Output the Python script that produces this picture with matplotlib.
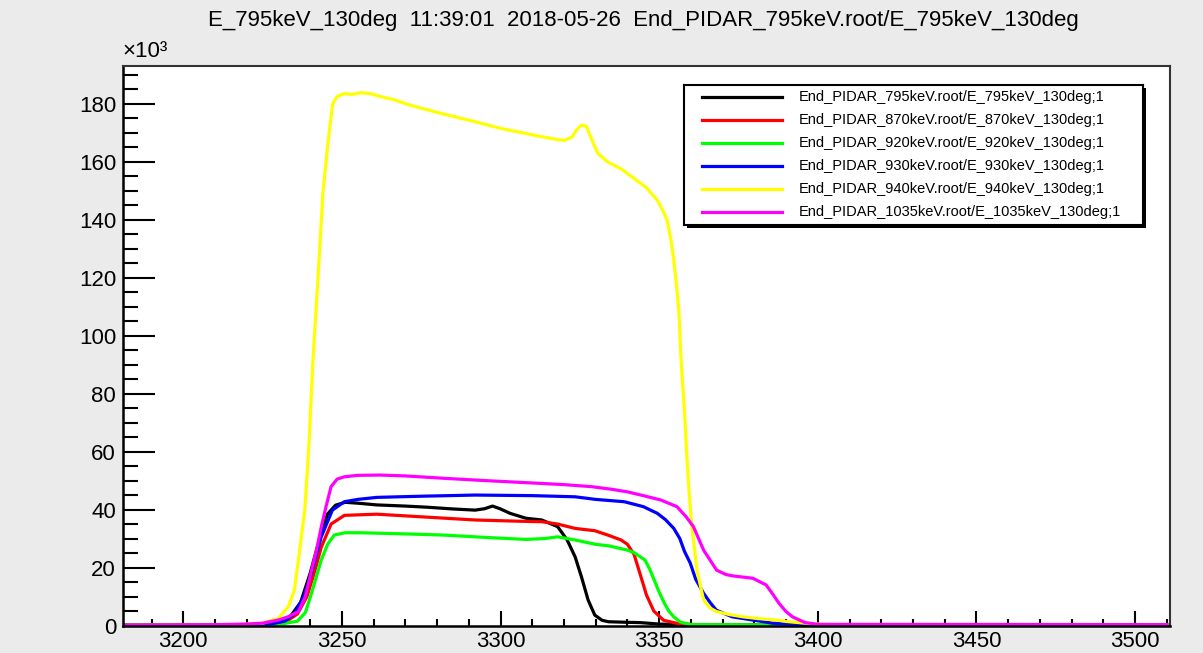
import matplotlib.pyplot as plt
from matplotlib.patches import Rectangle
from matplotlib.ticker import MultipleLocator

plt.rcParams['font.family'] = ['Liberation Sans', 'DejaVu Sans']

# energy spectra at 130 deg, counts in units of 1e3
labels = ["End_PIDAR_795keV.root/E_795keV_130deg;1",
          "End_PIDAR_870keV.root/E_870keV_130deg;1",
          "End_PIDAR_920keV.root/E_920keV_130deg;1",
          "End_PIDAR_930keV.root/E_930keV_130deg;1",
          "End_PIDAR_940keV.root/E_940keV_130deg;1",
          "End_PIDAR_1035keV.root/E_1035keV_130deg;1"]
colors = ['black', '#ff0000', '#00ff00', '#0000ff', '#ffff00', '#ff00ff']

x_795 = [3180, 3220, 3228, 3233, 3237, 3240, 3243, 3245.5, 3248, 3251, 3255, 3261, 3270,
         3277, 3285, 3292, 3295, 3297.5, 3300, 3303, 3308, 3313, 3318, 3321, 3323.5,
         3325.5, 3327.6, 3329.7, 3332, 3334, 3340, 3344, 3350, 3360, 3400, 3510]
y_795 = [0.1, 0.2, 0.6, 2, 8, 18, 30, 38.5, 41.5, 42.5, 42.2, 41.6, 41.2,
         40.8, 40.2, 39.8, 40.3, 41.2, 40.2, 38.7, 37, 36.4, 34.1, 29.5, 23.7,
         16.8, 8.8, 3.6, 1.8, 1.3, 1.1, 1.0, 0.5, 0.2, 0.1, 0.1]

x_870 = [3180, 3225, 3232, 3236, 3239, 3241.5, 3243.5, 3246.6, 3250.8, 3261, 3275, 3292,
         3305, 3313, 3318, 3323.5, 3329.7, 3333.8, 3338, 3340, 3342.1, 3344.2, 3346,
         3348.3, 3351.4, 3356.6, 3365, 3510]
y_870 = [0.1, 0.3, 1, 4, 10, 19, 27, 35, 38, 38.4, 37.5, 36.4,
         36, 35.8, 35, 33.5, 32.7, 31.2, 29.5, 28, 24.5, 17, 10.5,
         5, 1.8, 0.5, 0.2, 0.1]

x_920 = [3180, 3230, 3236, 3238.5, 3240.4, 3242, 3243.5, 3245.5, 3247.6, 3251, 3256, 3270,
         3282, 3295, 3308, 3314, 3318, 3323.5, 3330, 3334, 3340, 3342, 3345.5, 3347,
         3348.5, 3350, 3351.5, 3353, 3354.6, 3356.6, 3360, 3510]
y_920 = [0.1, 0.3, 1.5, 4.5, 11, 17, 22.6, 28, 31.2, 32, 32, 31.6,
         31.2, 30.4, 29.7, 30, 30.6, 29.5, 28, 27.5, 26, 25.2, 22.6, 19.5,
         15.5, 11.5, 8, 5, 3, 1.2, 0.3, 0.1]

x_930 = [3180, 3220, 3228, 3232, 3235, 3238, 3240.4, 3243.5, 3247, 3250.8, 3255, 3261,
         3275, 3292, 3310, 3323.5, 3330, 3339, 3345, 3349.4, 3352, 3354.6, 3356.5,
         3358, 3359.8, 3361.5, 3364, 3366, 3368, 3373, 3379.5, 3385.7, 3392, 3400, 3510]
y_930 = [0.1, 0.2, 0.6, 1.5, 4, 10, 18, 30.6, 39.8, 42.7, 43.5, 44.2,
         44.6, 45, 44.8, 44.4, 43.5, 42.7, 41, 38.7, 36.5, 33.5, 30,
         25.5, 21.5, 16, 11.1, 8, 5.3, 3.0, 1.9, 0.8, 0.4, 0.2, 0.1]

x_940 = [3180, 3215, 3225, 3230, 3233.1, 3235, 3236.3, 3238.3, 3239.5, 3240.9, 3242.5,
         3244, 3245.6, 3247.1, 3248.5, 3250.8, 3253, 3256, 3259, 3262, 3266, 3271.5,
         3280, 3292.3, 3300, 3313.1, 3318, 3320.3, 3322.5, 3324, 3325.5, 3327, 3329,
         3330.7, 3333.8, 3338, 3342.1, 3346, 3349.4, 3351, 3352.5, 3353.7, 3354.6,
         3355.5, 3356.2, 3356.9, 3357.9, 3358.8, 3359.5, 3360.3, 3361.9, 3364, 3366,
         3368.1, 3372, 3376.4, 3381, 3386.8, 3390, 3396, 3405, 3510]
y_940 = [0.05, 0.2, 0.8, 2.5, 6.5, 12, 22.6, 39.8, 60, 91.6, 120.3,
         149, 166.3, 180, 182.5, 183.5, 183.2, 183.8, 183.5, 182.5, 181.5, 179.5,
         177, 173.7, 171.5, 168.6, 167.6, 167.4, 168.5, 171, 172.6, 172.2, 167,
         162.8, 159.9, 157.5, 154.2, 151, 146.7, 143.5, 139.8, 133, 126,
         117, 108.8, 91.6, 75, 57, 45, 34.1, 19.1, 8.8, 6,
         4.8, 3.8, 3.0, 2.4, 1.9, 1.4, 0.8, 0.2, 0.1]

x_1035 = [3180, 3210, 3220, 3225, 3230, 3233, 3236.3, 3238.5, 3240.4, 3242, 3243.5, 3245,
          3246.6, 3248.5, 3250.8, 3255, 3262, 3270, 3281.9, 3295, 3313, 3320, 3328.7,
          3335, 3340, 3345, 3350.5, 3355.6, 3358.5, 3360.8, 3364, 3368.1, 3371, 3373.3,
          3379.5, 3383.7, 3386, 3387.8, 3390, 3392, 3396, 3400, 3510]
y_1035 = [0.1, 0.3, 0.5, 0.8, 1.9, 3, 4.8, 10, 19, 26, 34, 41,
          47.9, 50.5, 51.3, 51.8, 51.9, 51.6, 50.8, 50, 49.0, 48.6, 47.9,
          47, 46.1, 44.8, 43.3, 41, 37.5, 34.1, 26, 19.1, 17.6, 17.1,
          16.3, 14, 10.5, 7.6, 4.8, 3.0, 1.0, 0.4, 0.3]

xs = [x_795, x_870, x_920, x_930, x_940, x_1035]
ys = [y_795, y_870, y_920, y_930, y_940, y_1035]

fig = plt.figure(figsize=(12.03, 6.53), dpi=100, facecolor='#ebebeb')
ax = fig.add_axes([0.1022, 0.0421, 0.8704, 0.8568])
ax.set_facecolor('white')

for x, y, c in zip(xs, ys, colors):
    ax.plot(x, y, color=c, lw=2.3)

ax.set_xlim(3181, 3511)
ax.set_ylim(0, 193)

# ROOT-like inward ticks on bottom and left only
ax.xaxis.set_major_locator(MultipleLocator(50))
ax.xaxis.set_minor_locator(MultipleLocator(10))
ax.yaxis.set_major_locator(MultipleLocator(20))
ax.yaxis.set_minor_locator(MultipleLocator(5))
ax.tick_params(axis='x', which='major', direction='in', length=11, width=1.5, labelsize=16, pad=4)
ax.tick_params(axis='x', which='minor', direction='in', length=5, width=1.5)
ax.tick_params(axis='y', which='major', direction='in', length=23, width=1.5, labelsize=16, pad=5)
ax.tick_params(axis='y', which='minor', direction='in', length=11, width=1.5)
for side in ['left', 'bottom']:
    ax.spines[side].set_linewidth(1.8)
for side in ['top', 'right']:
    ax.spines[side].set_linewidth(1.5)
    ax.spines[side].set_color('#333333')

fig.text(0.102, 0.905, '×10³', fontsize=16, ha='left', va='bottom')
fig.text(0.535, 0.968,
         'E_795keV_130deg  11:39:01  2018-05-26  End_PIDAR_795keV.root/E_795keV_130deg',
         fontsize=16, ha='center', va='center')

# legend box in the ROOT style: thin frame with a solid shadow
box = [0.5686, 0.6554, 0.3815, 0.2144]
fig.patches.append(Rectangle((box[0] + 3 / 1203, box[1] - 3 / 653), box[2], box[3],
                             transform=fig.transFigure, facecolor='black', zorder=1))
lax = fig.add_axes(box, zorder=2)
lax.set_facecolor('white')
lax.set_xlim(0, 459)
lax.set_ylim(140, 0)
lax.set_xticks([])
lax.set_yticks([])
for sp in lax.spines.values():
    sp.set_linewidth(1.5)
for i, (c, lab) in enumerate(zip(colors, labels)):
    row = 11.7 + 23 * i
    lax.plot([18, 98], [row, row], color=c, lw=2.3)
    lax.text(115, row, lab, fontsize=10.5, ha='left', va='center')

fig.savefig('out.png', dpi=100, facecolor=fig.get_facecolor())
